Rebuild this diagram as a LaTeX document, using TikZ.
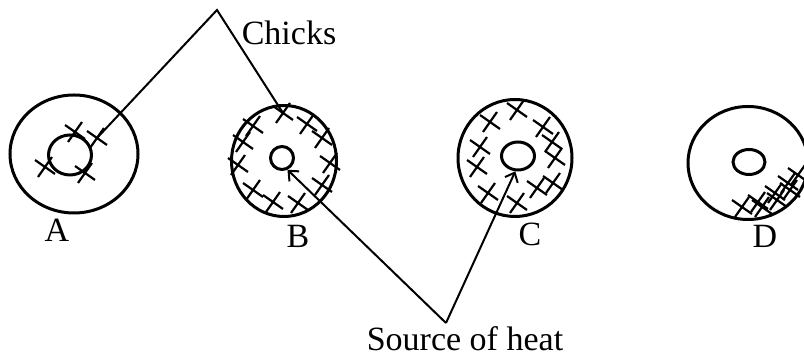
\documentclass[tikz,border=0pt]{standalone}
\usepackage{fontspec}
\setmainfont{Liberation Serif}
\usepackage{tikz}
\usetikzlibrary{arrows.meta,shapes.geometric,shapes.misc}

\begin{document}
\begin{tikzpicture}[x=0.5pt, y=-0.5pt,
  font=\fontsize{17}{20}\selectfont,
  pen/.style={draw, ellipse, inner sep=0pt, line width=1.5pt},
  chick/.style={draw, cross out, inner sep=0pt, minimum size=7.5pt, line width=1.1pt, rotate=10},
  lead/.style={line width=1pt},
  arr/.style={line width=1pt, -{Straight Barb[length=4pt, width=7pt]}}]
\useasboundingbox (0,0) rectangle (804,356);
% ---- brooders: outer ring and heat source ----
\node[pen, minimum width=64pt, minimum height=59pt] (aout) at (74,154) {};
\node[pen, minimum width=21.5pt, minimum height=20pt] (ain) at (70,155) {};
\node[pen, minimum width=52.5pt, minimum height=55.5pt] (bout) at (284,161) {};
\node[pen, minimum width=11.5pt, minimum height=11.5pt] (bin) at (282,158) {};
\node[pen, minimum width=57pt, minimum height=58.5pt] (cout) at (515,158) {};
\node[pen, minimum width=16.5pt, minimum height=14pt] (cin) at (518,156) {};
\node[pen, minimum width=60pt, minimum height=56.5pt] (dout) at (748,163) {};
\node[pen, minimum width=16pt, minimum height=12.5pt] (din) at (749,162) {};
% ---- chicks ----
\foreach \x/\y [count=\i] in {75/132, 97/138, 45/167, 85/173}
  \node[chick] (a\i) at (\x,\y) {};
\foreach \x/\y [count=\i] in {253/126, 283/113, 307/124, 322/138, 330/163,
    322/185, 298/203, 273/202, 253/190, 238/165, 243/142}
  \node[chick] (b\i) at (\x,\y) {};
\foreach \x/\y [count=\i] in {490/122, 517/110, 543/127, 552/142, 555/158,
    553/183, 537/188, 517/203, 488/193, 477/167, 480/147}
  \node[chick] (c\i) at (\x,\y) {};
\foreach \x/\y [count=\i] in {742/207, 758/202, 762/207, 775/193, 777/200,
    788/183, 790/190, 798/175}
  \node[chick] (d\i) at (\x,\y) {};
% ---- labels ----
\node (la) at (57,230) {A};
\node (lb) at (298,236) {B};
\node (lc) at (530,234) {C};
\node (ld) at (765,236) {D};
\node (chicks) at (289,33) {Chicks};
\node (heat) at (465,339) {Source of heat};
% ---- leader lines ----
\coordinate (top) at (217,10);
\coordinate (low) at (446,323);
\draw[lead] (a2.center) -- (top) -- (b2.center);
\draw[arr] (low) -- (bin.-65);
\draw[arr] (low) -- (cin.-100);
\end{tikzpicture}
\end{document}
